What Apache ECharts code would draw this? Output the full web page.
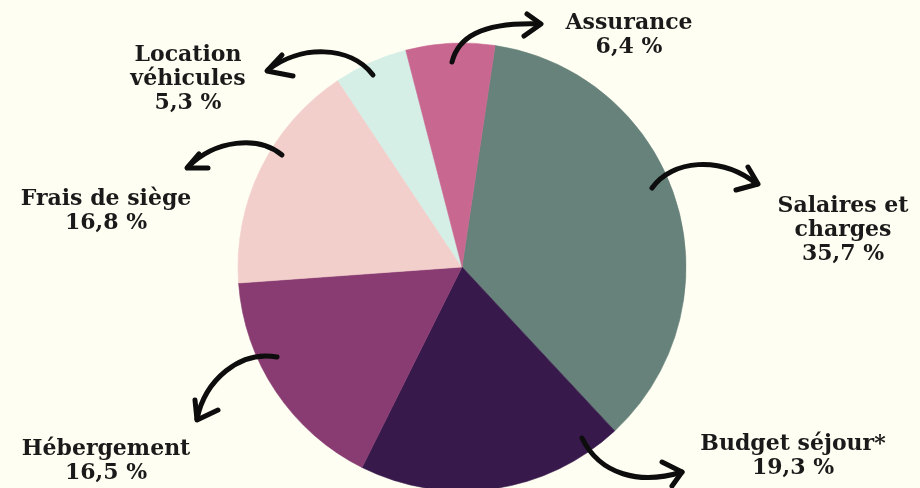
<!DOCTYPE html>
<html>
<head>
<meta charset="utf-8">
<script src="https://cdn.jsdelivr.net/npm/echarts@6/dist/echarts.min.js"></script>
<style>
  html, body { margin: 0; padding: 0; background: #fefef2; }
  #chart { width: 920px; height: 488px; }
</style>
</head>
<body>
<div id="chart"></div>
<script>
// postes de dépense, dans le sens horaire depuis le haut
var categories = ['Salaires et\ncharges', 'Budget séjour*', 'Hébergement', 'Frais de siège', 'Location\nvéhicules', 'Assurance'];
var percents = [35.7, 19.3, 16.5, 16.8, 5.3, 6.4];
var colors = ['#66827a', '#38194b', '#883c72', '#f3cfcb', '#d5efe7', '#c86790'];

// centre de chaque bloc de texte
var labelPos = [[843, 230], [793, 456], [106, 461], [106, 211], [188, 79], [629, 35]];

// flèches dessinées à la main : courbe [x1,y1,cx1,cy1,cx2,cy2,x2,y2] et pointe
var arrowCurves = [
    [652, 188, 672, 160, 720, 155, 757, 184],
    [582, 438, 600, 475, 640, 485, 682, 472],
    [277, 357, 240, 350, 205, 380, 197, 419],
    [282, 155, 258, 135, 215, 140, 188, 167],
    [373, 75, 350, 45, 300, 45, 268, 70],
    [452, 62, 458, 38, 480, 22, 540, 24]
];
var arrowHeads = [
    [[748, 167], [758, 184], [736, 190]],
    [[662, 462], [682, 472], [672, 486]],
    [[195, 400], [197, 420], [218, 410]],
    [[199, 154], [187, 168], [208, 168]],
    [[282, 55], [267, 71], [293, 76]],
    [[527, 14], [541, 24], [524, 36]]
];

var myChart = echarts.init(document.getElementById('chart'));

var pieData = categories.map(function (name, i) {
    return { name: name, value: percents[i], itemStyle: { color: colors[i], borderColor: colors[i], borderWidth: 0.6 } };
});

var strokeStyle = { stroke: '#0d0d0d', lineWidth: 5, lineCap: 'round', lineJoin: 'round', fill: 'none' };
var graphics = [];
arrowCurves.forEach(function (c, i) {
    graphics.push({
        type: 'bezierCurve', z: 100,
        shape: { x1: c[0], y1: c[1], cpx1: c[2], cpy1: c[3], cpx2: c[4], cpy2: c[5], x2: c[6], y2: c[7] },
        style: strokeStyle
    });
    graphics.push({
        type: 'polyline', z: 100,
        shape: { points: arrowHeads[i] },
        style: strokeStyle
    });
});

var options = {
    backgroundColor: '#fefef2',
    animation: false,
    graphic: graphics,
    series: [
        {
            type: 'pie',
            center: [462, 267],
            radius: 224,
            startAngle: 81.5,
            clockwise: true,
            data: pieData,
            label: {
                show: true,
                color: '#1a1a1a',
                fontFamily: 'DejaVu Serif',
                fontWeight: 'bold',
                fontSize: 22,
                lineHeight: 24,
                formatter: function (p) {
                    return p.name + '\n' + p.value.toFixed(1).replace('.', ',') + ' %';
                }
            },
            labelLine: { show: false },
            labelLayout: function (params) {
                var pos = labelPos[params.dataIndex];
                return { x: pos[0], y: pos[1], align: 'center', verticalAlign: 'middle' };
            }
        }
    ]
};
myChart.setOption(options);
</script>
</body>
</html>
